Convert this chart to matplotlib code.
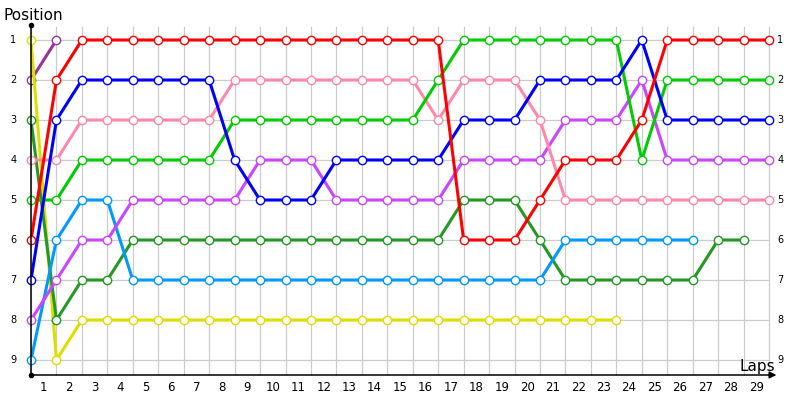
import matplotlib
matplotlib.use("Agg")
import matplotlib.pyplot as plt

laps = list(range(0, 30))
lap_labels = [str(k) for k in range(1, 30)]
positions = list(range(1, 10))

# position of each driver at every lap (None = retired)
dark_purple = [2, 1]
yellow = [1, 9] + [8] * 22
dark_green = [3, 8, 7, 7] + [6] * 13 + [5, 5, 5, 6] + [7] * 6 + [6, 6]
light_blue = [9, 6, 5, 5] + [7] * 17 + [6] * 6
violet = [8, 7, 6, 6, 5, 5, 5, 5, 5, 4, 4, 4, 5, 5, 5, 5, 5, 4, 4, 4, 4,
          3, 3, 3, 2, 4, 4, 4, 4, 4]
pink = [4, 4] + [3] * 6 + [2] * 8 + [3, 2, 2, 2, 3] + [5] * 9
green = [5, 5] + [4] * 6 + [3] * 8 + [2] + [1] * 7 + [4] + [2] * 5
blue = [7, 3] + [2] * 6 + [4, 5, 5, 5] + [4] * 5 + [3, 3, 3] + [2] * 4 + [1] + [3] * 5
red = [6, 2] + [1] * 15 + [6, 6, 6, 5, 4, 4, 4, 3] + [1] * 5

series = [
    (dark_purple, "#993399"),
    (yellow, "#dddd00"),
    (dark_green, "#229922"),
    (light_blue, "#0099ff"),
    (violet, "#cc44ff"),
    (pink, "#ff88aa"),
    (green, "#00cc00"),
    (blue, "#0000ff"),
    (red, "#ff0000"),
]

fig = plt.figure(figsize=(8, 4), dpi=100)
ax = fig.add_axes([0, 0, 1, 1])
ax.set_xlim(-31 / 25.45, 769 / 25.45)
ax.set_ylim(10, 0)
ax.axis("off")

# grid
for i in laps:
    ax.plot([i, i], [0.675, 9.375], color="#cccccc", lw=0.9, zorder=1)
for p in positions:
    ax.plot([0, 29], [p, p], color="#cccccc", lw=0.9, zorder=1)

# axes
ax.plot([0, 0], [0.625, 9.375], color="black", lw=1.1, zorder=5)
ax.plot([0, 29.1], [9.375, 9.375], color="black", lw=1.1, zorder=5)
ax.plot([0, 0], [0.625, 9.375], "o", color="black", ms=3, zorder=6)
ax.annotate("", xy=(29.4, 9.375), xytext=(28.9, 9.375),
            arrowprops=dict(arrowstyle="-|>", color="black", lw=1.1,
                            mutation_scale=10), zorder=6)

for vals, col in series:
    ax.plot(laps[:len(vals)], vals, color=col, lw=2.2, marker="o", ms=6,
            mfc="white", mec=col, mew=1.0, zorder=3)

for p in positions:
    ax.text(-0.7, p, str(p), ha="center", va="center", fontsize=7)
    ax.text(29.45, p, str(p), ha="center", va="center", fontsize=7)
for k, lab in enumerate(lap_labels, start=1):
    ax.text(k - 0.5, 9.68, lab, ha="center", va="center", fontsize=8.5)

ax.text(-1.08, 0.38, "Position", ha="left", va="center", fontsize=11)
ax.text(29.25, 9.15, "Laps", ha="right", va="center", fontsize=11)

fig.savefig("out.png", dpi=100)
